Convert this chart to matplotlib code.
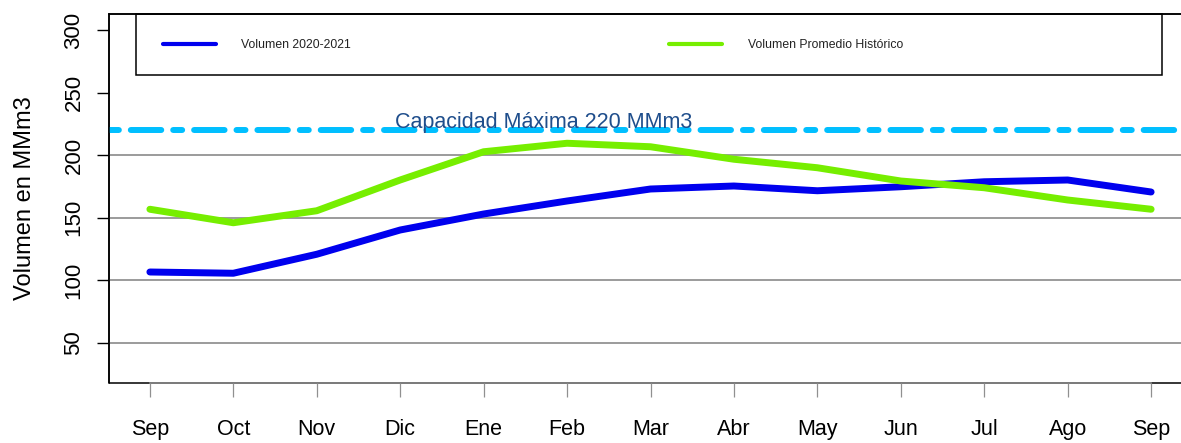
import matplotlib.pyplot as plt
from matplotlib.patches import Rectangle

months = ["Sep", "Oct", "Nov", "Dic", "Ene", "Feb", "Mar", "Abr", "May", "Jun", "Jul", "Ago", "Sep"]
vol_2020_2021 = [106.4, 105.4, 120.6, 140.0, 152.8, 163.2, 172.8, 175.2, 171.4, 174.6, 178.6, 180.0, 170.4]
vol_promedio = [156.6, 145.8, 155.4, 180.0, 202.6, 209.4, 206.6, 196.6, 189.8, 179.2, 173.8, 164.0, 156.6]
capacidad = 220
grid_levels = [50, 100, 150, 200]
y_ticks = [50, 100, 150, 200, 250, 300]

plt.rcParams["font.family"] = ["Liberation Sans", "DejaVu Sans"]

fig = plt.figure(figsize=(11.81, 4.43), dpi=100)
W, H = 1181, 443
ax = fig.add_axes([109 / W, 1 - 383 / H, (1192 - 109) / W, (383 - 14) / H])

x = list(range(1, len(months) + 1))

for g in grid_levels:
    ax.axhline(g, color="#808080", lw=1.1, zorder=1)

ax.axhline(capacidad, color="#00BFFF", lw=4.3,
           linestyle=(6.95, (5.1, 2.0, 1.5, 2.0)),
           dash_capstyle="round", zorder=2)
ax.text(5.72, capacidad + 1.8, "Capacidad Máxima %d MMm3" % capacidad, color="#1F4E8C",
        fontsize=15.5, ha="center", va="baseline", zorder=3)

ax.plot(x, vol_2020_2021, color="#0000EE", lw=5, solid_capstyle="round",
        solid_joinstyle="round", zorder=4)
ax.plot(x, vol_promedio, color="#76EE00", lw=5, solid_capstyle="round",
        solid_joinstyle="round", zorder=5)

ax.set_xlim(0.51, 13.49)
ax.set_ylim(17.6, 312.8)

# legend box + entries
ax.add_patch(Rectangle((0.0249, 0.8347), 0.9474, 0.1653, transform=ax.transAxes,
                       fill=False, edgecolor="black", lw=1.1, zorder=6, clip_on=False))
h1 = plt.Line2D([], [], color="#0000EE", lw=3.0, solid_capstyle="round")
h2 = plt.Line2D([], [], color="#76EE00", lw=3.0, solid_capstyle="round")
leg = ax.legend([h1, h2], ["Volumen 2020-2021", "Volumen Promedio Histórico"], ncol=2,
                loc="center left", bbox_to_anchor=(0.0499, 0.9160), frameon=False,
                fontsize=8.8, handlelength=4.3, handletextpad=2.1, columnspacing=26.05,
                borderpad=0, borderaxespad=0)
for t in leg.get_texts():
    t.set_color("#222222")

# box: black frame, gray x axis line between first and last tick
for s in ["left", "top", "right"]:
    ax.spines[s].set_color("black")
    ax.spines[s].set_linewidth(1.1)
ax.add_patch(Rectangle((0, 0), 1, 1, transform=ax.transAxes, fill=False,
                       edgecolor="black", lw=1.1, zorder=0.5, clip_on=False))
ax.spines["bottom"].set_bounds(1, len(months))
ax.spines["bottom"].set_color("#909090")
ax.spines["bottom"].set_linewidth(1.1)
ax.spines["bottom"].set_zorder(7)

ax.set_xticks(x)
ax.set_xticklabels(months)
ax.tick_params(axis="x", direction="out", length=10, width=0.9, color="#909090",
               pad=16, labelsize=15.5)
ax.set_yticks(y_ticks)
ax.tick_params(axis="y", direction="out", length=8.6, width=1.0, color="black",
               pad=9, labelsize=16, labelrotation=90)
for lab in ax.get_yticklabels():
    lab.set_va("center")

ax.set_ylabel("Volumen en MMm3", fontsize=17)
ax.yaxis.set_label_coords(-0.067, 0.5)

fig.savefig("out.png", dpi=100)
